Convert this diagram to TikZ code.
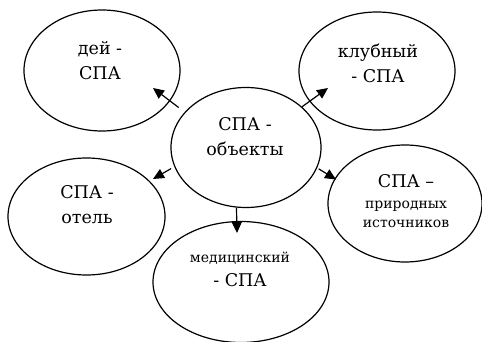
\documentclass[tikz,border=0pt]{standalone}
\usepackage{fontspec}
\setmainfont{DejaVu Serif}
\usetikzlibrary{arrows.meta,calc,shapes.geometric}
\newcommand{\spamain}{\fontsize{17.5}{25}\selectfont}
\newcommand{\spasmall}{\fontsize{14}{20}\selectfont}
\tikzset{
  bubble/.style={
    ellipse, draw=black, line width=1.2pt, inner sep=0pt,
    minimum width=156pt, minimum height=120pt
  },
  spatext/.style={align=center, font=\spamain, inner sep=0pt},
  arrow/.style={-{Triangle[length=11pt,width=10pt]}, line width=1.2pt}
}
\begin{document}
\begin{tikzpicture}[x=1pt, y=-1pt]
  \useasboundingbox (0,0) rectangle (482,342);

  % Ellipses
  \node[bubble, minimum width=150pt] (spa) at (246,147.5) {};
  \node[bubble, minimum height=121pt] (dei) at (102,70.5) {};
  \node[bubble, minimum height=118pt] (club) at (377,71) {};
  \node[bubble, minimum width=157pt, minimum height=117pt] (hotel) at (86.5,216.5) {};
  \node[bubble, minimum width=176pt, minimum height=121pt] (med) at (241,282) {};
  \node[bubble, minimum width=154pt, minimum height=117pt] (nature) at (405,203.5) {};

  % Captions
  \node[spatext] (spa-txt) at (245,137) {СПА -\\объекты};
  \node[spatext] (dei-txt) at (100,61) {дей -\\СПА};
  \node[spatext] (club-txt) at (378,63) {клубный\\- СПА};
  \node[spatext] (hotel-txt) at (87,205) {СПА -\\отель};
  \node[spatext] (med-txt) at (240,269.5) {{\spasmall медицинский}\\[-1pt]- СПА};
  \node[spatext] (nature-txt) at (406,201.5)
    {СПА –\\[-4pt]{\spasmall природных}\\[-6pt]{\spasmall источников}};

  % Arrow tips inside the outer ellipses
  \coordinate (dei-tip) at ($(dei.center)+(51,17.5)$);
  \coordinate (club-tip) at ($(club.center)+(-49,17)$);
  \coordinate (hotel-tip) at ($(hotel.center)+(66.5,-37.5)$);
  \coordinate (nature-tip) at ($(nature.center)+(-69,-24)$);
  \coordinate (med-tip) at ($(med.center)+(-4,-49)$);

  % Arrows
  \draw[arrow, shorten <=7.5pt] (spa.150) -- (dei-tip);
  \draw[arrow] (spa.36) -- (club-tip);
  \draw[arrow, shorten <=3.7pt] (spa.195.6) -- (hotel-tip);
  \draw[arrow, shorten <=1.7pt] (spa.-16.4) -- (nature-tip);
  \draw[arrow] (spa.261.4) -- (med-tip);

\end{tikzpicture}
\end{document}
